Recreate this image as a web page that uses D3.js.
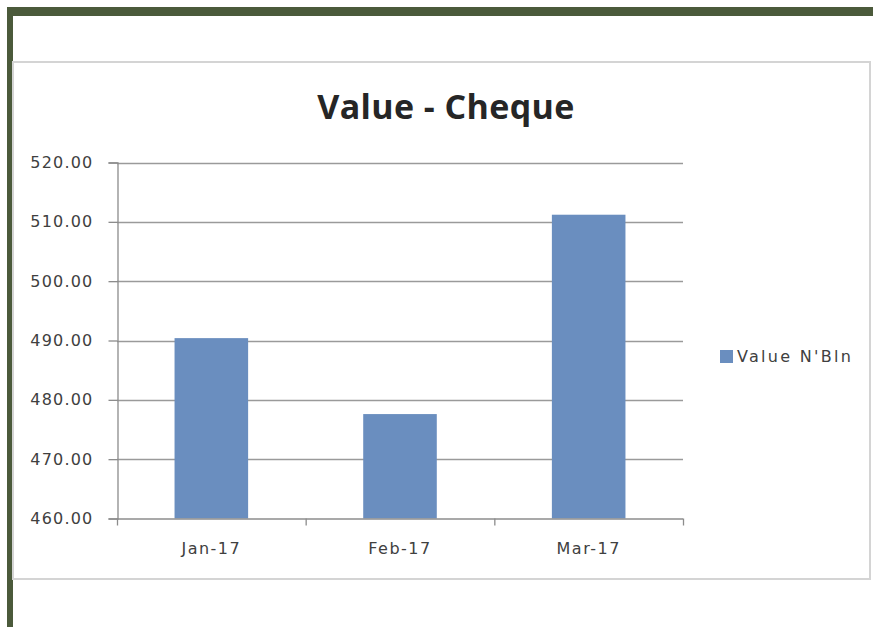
<!DOCTYPE html>
<html>
<head>
<meta charset="utf-8">
<script src="https://cdn.jsdelivr.net/npm/d3@7"></script>
<style>
  html, body { margin: 0; padding: 0; background: #ffffff; }
  #chart { width: 873px; height: 627px; }
</style>
</head>
<body>
<div id="chart"></div>
<script>
const categories = ['Jan-17', 'Feb-17', 'Mar-17'];
const values = [490.4, 477.6, 511.2];
const yTicks = [460, 470, 480, 490, 500, 510, 520];
const seriesName = "Value N'Bln";
const title = 'Value - Cheque';

const width = 873;
const height = 627;
const margin = { top: 162, right: 190, bottom: 108, left: 117 };

const svg = d3
  .select('#chart')
  .append('svg')
  .attr('width', width)
  .attr('height', height);

// green frame (top and left edges only)
svg.append('rect').attr('x', 7).attr('y', 7).attr('width', width - 7).attr('height', 9).attr('fill', '#4b5a3b');
svg.append('rect').attr('x', 7).attr('y', 7).attr('width', 6).attr('height', height - 7).attr('fill', '#4b5a3b');

// chart area border
svg
  .append('rect')
  .attr('x', 13)
  .attr('y', 62)
  .attr('width', 857)
  .attr('height', 517)
  .attr('fill', '#ffffff')
  .attr('stroke', '#d4d4d4')
  .attr('stroke-width', 2);

svg
  .append('text')
  .attr('x', 446)
  .attr('y', 119)
  .attr('text-anchor', 'middle')
  .attr('font-family', '"Open Sans", Lato, sans-serif')
  .attr('font-weight', 'bold')
  .attr('font-size', '34px')
  .attr('letter-spacing', '0.4px')
  .attr('fill', '#262626')
  .text(title);

const x0 = margin.left;
const x1 = width - margin.right;
const y0 = height - margin.bottom;
const y1 = margin.top;

const xOuter = d3.scaleBand().domain(categories).range([x0, x1]);
const x = d3
  .scaleBand()
  .domain(categories)
  .range([x0, x1])
  .paddingInner(0.61)
  .paddingOuter(0.305);
const y = d3.scaleLinear().domain([460, 520]).range([y0 - 0.5, y1 + 0.5]);

const labelFont = '"DejaVu Sans", sans-serif';
const labelColor = '#404040';

// gridlines
svg
  .append('g')
  .selectAll('line')
  .data(yTicks.slice(1))
  .join('line')
  .attr('x1', x0)
  .attr('x2', x1)
  .attr('y1', (d) => Math.round(y(d)) + 0.5)
  .attr('y2', (d) => Math.round(y(d)) + 0.5)
  .attr('stroke', '#9a9a9a')
  .attr('stroke-width', 1.3);

// bars
svg
  .append('g')
  .selectAll('rect')
  .data(values)
  .join('rect')
  .attr('x', (d, i) => x(categories[i]))
  .attr('y', (d) => y(d))
  .attr('width', x.bandwidth())
  .attr('height', (d) => y(460) - y(d))
  .attr('fill', '#6a8ebf');

// y axis
const yAxis = svg
  .append('g')
  .attr('transform', `translate(${x0 + 0.5},0)`)
  .call(
    d3
      .axisLeft(y)
      .tickValues(yTicks)
      .tickSize(9)
      .tickPadding(15)
      .tickFormat(d3.format('.2f'))
  );
yAxis.select('.domain').attr('stroke', '#8c8c8c').attr('stroke-width', 1.3);
yAxis.selectAll('.tick line').attr('stroke', '#8c8c8c').attr('stroke-width', 1.3);
yAxis
  .selectAll('.tick text')
  .attr('font-family', labelFont)
  .attr('font-size', '16px')
  .attr('letter-spacing', '1.2px')
  .attr('fill', labelColor);

// x axis
const boundaries = categories.map((c) => xOuter(c)).concat([x1]);
svg
  .append('line')
  .attr('x1', x0)
  .attr('x2', x1)
  .attr('y1', y(460) + 0.5)
  .attr('y2', y(460) + 0.5)
  .attr('stroke', '#8c8c8c')
  .attr('stroke-width', 1.3);
svg
  .append('g')
  .selectAll('line')
  .data(boundaries)
  .join('line')
  .attr('x1', (d) => d + 0.5)
  .attr('x2', (d) => d + 0.5)
  .attr('y1', y(460))
  .attr('y2', y(460) + 7)
  .attr('stroke', '#8c8c8c')
  .attr('stroke-width', 1.3);
svg
  .append('g')
  .selectAll('text')
  .data(categories)
  .join('text')
  .attr('x', (d) => xOuter(d) + xOuter.bandwidth() / 2)
  .attr('y', y(460) + 35)
  .attr('text-anchor', 'middle')
  .attr('font-family', labelFont)
  .attr('font-size', '16px')
  .attr('letter-spacing', '1.5px')
  .attr('fill', labelColor)
  .text((d) => d);

// legend
const legend = svg.append('g').attr('transform', 'translate(720,350)');
legend.append('rect').attr('width', 13).attr('height', 13).attr('fill', '#6a8ebf');
legend
  .append('text')
  .attr('x', 17)
  .attr('y', 12)
  .attr('font-family', labelFont)
  .attr('font-size', '16px')
  .attr('letter-spacing', '2.3px')
  .attr('fill', labelColor)
  .text(seriesName);
</script>
</body>
</html>
